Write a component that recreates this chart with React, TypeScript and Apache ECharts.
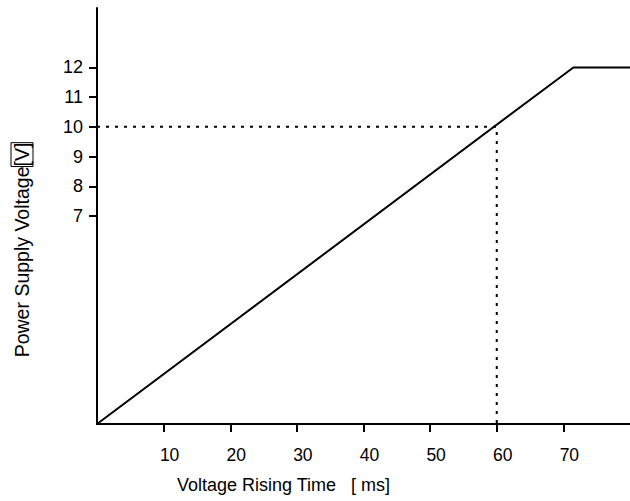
import React, { useEffect, useRef } from "react";
import * as echarts from "echarts";

const lineX = [0, 71.5, 80];
const lineY = [0, 12, 12];
const refX = 60;
const refY = 10;
const xTicks = [10, 20, 30, 40, 50, 60, 70];
const yTicks = [7, 8, 9, 10, 11, 12];
const xName = "Voltage Rising Time   [ ms]";
const yNameMain = "Power Supply Voltage";
const yNameUnit = "[V]";

const FONT = "'Liberation Sans', Arial, sans-serif";

export default function App() {
  const ref = useRef<HTMLDivElement>(null);
  useEffect(() => {
    document.body.style.margin = "0";
    const chart = echarts.init(ref.current!, null, { renderer: "svg" });
    const mainData = lineX.map((x, i) => [x, lineY[i]]);
    const refData = [
      [0, refY],
      [refX, refY],
      [refX, 0],
    ];
    chart.setOption({
      animation: false,
      backgroundColor: "#fff",
      textStyle: { fontFamily: FONT },
      grid: { left: 97, top: 8, width: 539, height: 416, containLabel: false },
      xAxis: {
        type: "value",
        min: 0,
        max: 80,
        axisLine: { onZero: false, lineStyle: { color: "#000", width: 2 } },
        axisTick: {
          customValues: xTicks,
          length: 8,
          lineStyle: { color: "#000", width: 2 },
        },
        axisLabel: {
          customValues: xTicks,
          margin: 22,
          fontSize: 17.5,
          color: "#000",
          fontFamily: FONT,
          padding: [0, 0, 0, 12],
        },
        splitLine: { show: false },
      },
      yAxis: {
        type: "value",
        min: 0,
        max: 14,
        axisLine: { show: true, onZero: false, lineStyle: { color: "#000", width: 2 } },
        axisTick: {
          show: true,
          customValues: yTicks,
          length: 8,
          lineStyle: { color: "#000", width: 2 },
        },
        axisLabel: {
          customValues: yTicks,
          margin: 14,
          fontSize: 18,
          color: "#000",
          fontFamily: FONT,
          padding: [5, 0, 0, 0],
        },
        splitLine: { show: false },
      },
      graphic: [
        {
          type: "text",
          left: 177,
          top: 476,
          style: {
            text: xName,
            fontSize: 18,
            fontFamily: FONT,
            fill: "#000",
          },
        },
        {
          type: "text",
          x: 22,
          y: 250,
          rotation: Math.PI / 2,
          style: {
            text: yNameMain + "{u|" + yNameUnit + "}",
            fontSize: 19.5,
            fontFamily: FONT,
            fill: "#000",
            align: "center",
            verticalAlign: "middle",
            rich: {
              u: {
                fontSize: 19.5,
                fontFamily: FONT,
                borderColor: "#000",
                borderWidth: 1,
                padding: [1, 0, 1, 0],
              },
            },
          },
        },
      ],
      series: [
        {
          type: "line",
          data: mainData,
          symbol: "none",
          lineStyle: { color: "#000", width: 2 },
          silent: true,
        },
        {
          type: "line",
          data: refData,
          symbol: "none",
          lineStyle: { color: "#000", width: 2, type: [3, 6] },
          silent: true,
        },
      ],
    });
    return () => chart.dispose();
  }, []);
  return <div ref={ref} style={{ width: 630, height: 501 }} />;
}
